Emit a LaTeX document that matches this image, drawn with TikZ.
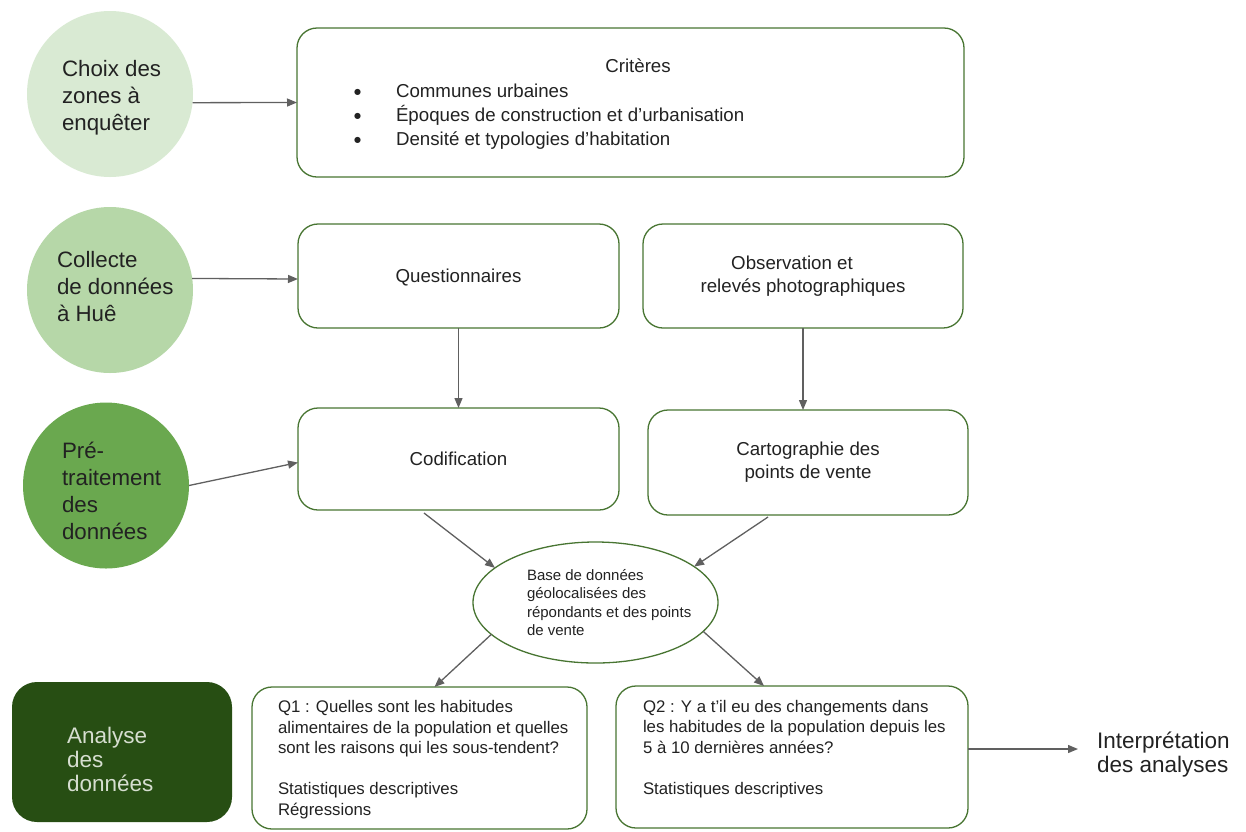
\documentclass[tikz,border=0pt]{standalone}
\usepackage{fontspec}
\setmainfont{Liberation Sans}
\newfontfamily\dejavu{DejaVu Sans}
\usetikzlibrary{arrows.meta,shapes.geometric,calc}
\definecolor{boxgreen}{RGB}{72,117,50}
\definecolor{arrowgray}{RGB}{96,96,96}
\definecolor{txt}{RGB}{34,34,34}
\definecolor{cone}{RGB}{217,234,211}
\definecolor{ctwo}{RGB}{182,215,168}
\definecolor{cthree}{RGB}{106,168,79}
\definecolor{cfour}{RGB}{39,78,19}
\definecolor{lighttxt}{RGB}{214,222,208}
\newcommand{\critbullet}{\makebox[42pt][l]{\raisebox{3pt}{\dejavu\fontsize{8}{8}\selectfont ●}}}
\begin{document}
\begin{tikzpicture}[x=1pt,y=-1pt,
  every node/.style={text=txt, inner sep=0pt, outer sep=0pt},
  box/.style={rectangle, draw=boxgreen, line width=1.3pt, rounded corners=20pt, fill=white,
              font=\fontsize{18.7}{23}\selectfont, align=center},
  stage/.style={circle, minimum size=166pt},
  stagetxt/.style={font=\fontsize{22.3}{27}\selectfont, align=left, anchor=west},
  bodytxt/.style={font=\fontsize{16.8}{20.5}\selectfont, align=left, anchor=west},
  arr/.style={draw=arrowgray, line width=1.3pt, -{Triangle[length=10pt,width=8pt]}, fill=arrowgray}
]
\useasboundingbox (0,0) rectangle (1246,831);

% stage circles
\node[stage, fill=cone]   (c1) at (110,94) {};
\node[stage, fill=ctwo]   (c2) at (110,290) {};
\node[stage, fill=cthree] (c3) at (106,485.5) {};
\node[stagetxt] (t1) at (62,97.5) {Choix des\\zones à\\enquêter};
\node[stagetxt] (t2) at (57,287) {Collecte\\de données\\à Huê};
\node[stagetxt] (t3) at (62,491) {Pré-\\traitement\\des\\données};

% analyse box
\node[rectangle, fill=cfour, rounded corners=25pt, minimum width=220pt, minimum height=140pt] (c4) at (122,752) {};
\node[stagetxt, text=lighttxt, font=\fontsize{22.5}{24}\selectfont] (t4) at (67,759) {Analyse\\des\\données};

% boxes
\node[box, minimum width=667pt, minimum height=149pt] (crit) at (630.5,102.5) {};
\node[font=\fontsize{18.7}{20}\selectfont] (crittitle) at (638,66) {Critères};
\node[font=\fontsize{18.7}{24}\selectfont, align=left, anchor=west] (critlist) at (354,117)
  {\critbullet Communes urbaines\\
   \critbullet Époques de construction et d’urbanisation\\
   \critbullet Densité et typologies d’habitation};

\node[box, minimum width=321pt, minimum height=104pt, text depth=-3pt] (quest) at (458.5,276) {Questionnaires};
\node[box, minimum width=320pt, minimum height=104pt] (obs) at (803,276)
  {Observation et\hspace*{22pt}\\relevés photographiques};
\node[box, minimum width=321pt, minimum height=102pt] (codif) at (458.5,459) {Codification};
\node[box, minimum width=320pt, minimum height=105pt] (carto) at (808,462.5)
  {Cartographie des\\points de vente};

\node[ellipse, draw=boxgreen, line width=1.3pt, fill=white, minimum width=245pt, minimum height=121pt] (db) at (595.5,602.5) {};
\node[font=\fontsize{15}{18.5}\selectfont, align=left, anchor=west] (dbtxt) at (527,602.5)
  {Base de données\\géolocalisées des\\répondants et des points\\de vente};

\node[box, minimum width=335pt, minimum height=142pt] (q1) at (419.5,758) {};
\node[bodytxt] (q1txt) at (278,759.5)
  {Q1 : Quelles sont les habitudes\\alimentaires de la population et quelles\\sont les raisons qui les sous-tendent?\\[20.5pt]Statistiques descriptives\\Régressions};
\node[box, minimum width=352pt, minimum height=142pt] (q2) at (792,757) {};
\node[bodytxt] (q2txt) at (643,749)
  {Q2 : Y a t’il eu des changements dans\\les habitudes de la population depuis les\\5 à 10 dernières années?\\[20.5pt]Statistiques descriptives};

\node[font=\fontsize{22.5}{24}\selectfont, align=left, anchor=west, inner xsep=19pt] (interp) at (1078,755)
  {Interprétation\\des analyses};

% connectors
\draw[arr] (c1.-6) -- (crit.west);
\draw[arr] (c2.8) -- ([yshift=-3pt]quest.west);
\draw[arr] (c3.east) -- ([yshift=-3.5pt]codif.west);
\draw[arr] (quest.south) -- (codif.north);
\draw[arr] (obs.south) -- (obs.south |- carto.north);
\draw[arr] ([xshift=-34.5pt,yshift=-3pt]codif.south) -- (db.161);
\draw[arr] ([xshift=-40pt,yshift=-2pt]carto.south) -- (db.20);
\draw[arr] (db.197) -- ([xshift=15pt]q1.north);
\draw[arr] (db.-15) -- ([xshift=-28pt]q2.north);
\draw[arr] ([yshift=8pt]q2.east) -- ([yshift=8pt]q2.east -| interp.west);
\end{tikzpicture}
\end{document}
